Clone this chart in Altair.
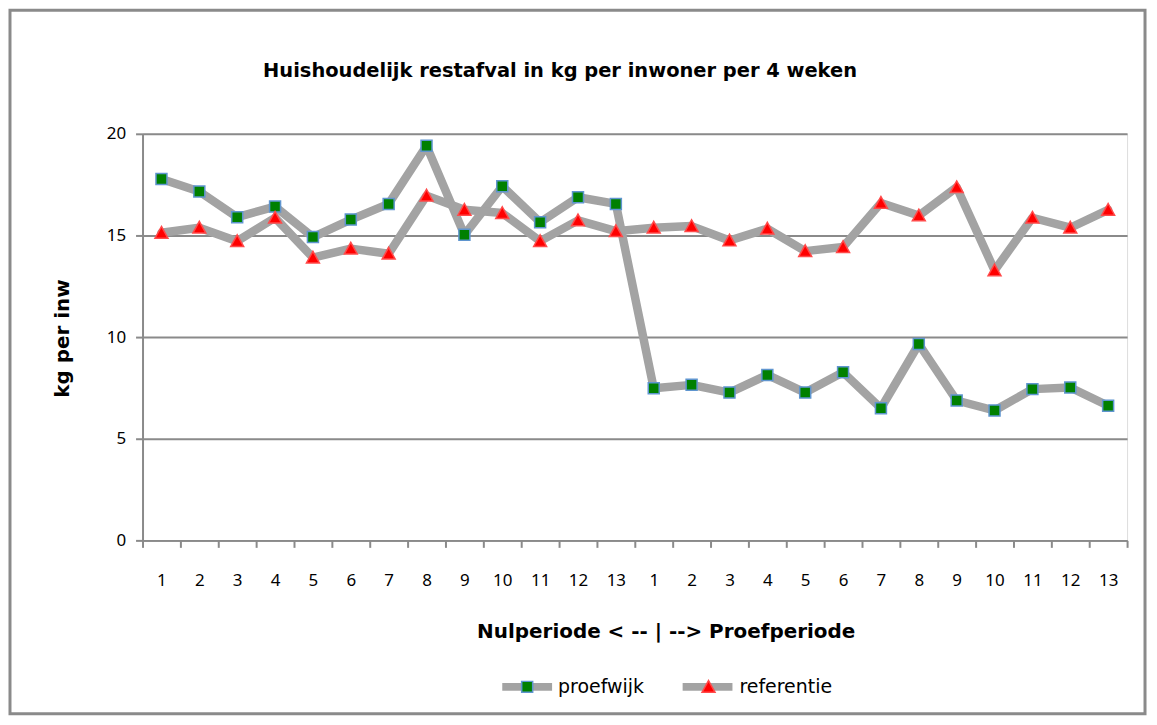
import altair as alt
import pandas as pd

# ---- data ----
periods = ["N1", "N2", "N3", "N4", "N5", "N6", "N7", "N8", "N9", "N10", "N11", "N12", "N13",
           "P1", "P2", "P3", "P4", "P5", "P6", "P7", "P8", "P9", "P10", "P11", "P12", "P13"]
proefwijk = [17.78, 17.16, 15.90, 16.42, 14.92, 15.78, 16.55, 19.41, 15.03, 17.42, 15.65, 16.88, 16.55,
             7.48, 7.65, 7.27, 8.14, 7.27, 8.27, 6.50, 9.66, 6.88, 6.39, 7.44, 7.52, 6.62]
referentie = [15.13, 15.38, 14.72, 15.87, 13.91, 14.35, 14.10, 16.96, 16.26, 16.10, 14.72, 15.74, 15.21,
              15.38, 15.46, 14.75, 15.33, 14.23, 14.43, 16.60, 15.98, 17.37, 13.28, 15.87, 15.38, 16.26]
series_names = ["proefwijk", "referentie"]
y_ticks = [0, 5, 10, 15, 20]
chart_title = "Huishoudelijk restafval in kg per inwoner per 4 weken"

ZW = "\u200b"  # zero-width marker so the line legend keeps its own labels
rows = []
for name, vals in zip(series_names, [proefwijk, referentie]):
    for p, v in zip(periods, vals):
        rows.append({"periode": p, "serie": name, "lijn": name + ZW, "waarde": v})
df = pd.DataFrame(rows)

GRAY = "#8a8a8a"
LINE = "#a3a3a3"
LABEL_FONT = "Noto Sans"
BOLD_FONT = "DejaVu Sans"

square = "M-0.195,-0.195H0.195V0.195H-0.195Z"
triangle = "M0,-0.225L0.23,0.19L-0.23,0.19Z"

x_enc = alt.X(
    "periode:N", sort=periods,
    scale=alt.Scale(type="band", paddingInner=0, paddingOuter=0),
    axis=alt.Axis(
        labelExpr="isString(datum.value) ? substring(datum.value, 1) : ''", labelAngle=0,
        labelFont=LABEL_FONT, labelFontSize=17, labelColor="black", labelPadding=25,
        tickBand="extent", tickSize=7, tickColor=GRAY, tickWidth=2,
        domainColor=GRAY, domainWidth=2, grid=False,
        title="Nulperiode < -- | --> Proefperiode",
        titleFont=BOLD_FONT, titleFontSize=20, titleFontWeight="bold", titleColor="black",
        titleX=525, titleY=91, titleBaseline="middle", titleAlign="center",
    ),
)
y_enc = alt.Y(
    "waarde:Q", scale=alt.Scale(domain=[0, 20]),
    axis=alt.Axis(
        values=y_ticks, format="d",
        labelFont=LABEL_FONT, labelFontSize=17, labelColor="black", labelPadding=10,
        tickSize=7, tickColor=GRAY, tickWidth=2,
        domainColor=GRAY, domainWidth=2,
        grid=True, gridColor=GRAY, gridWidth=2,
        title="kg per inw",
        titleFont=BOLD_FONT, titleFontSize=20, titleFontWeight="bold", titleColor="black",
        titleX=-80, titleY=205, titleBaseline="middle", titleAlign="center", titleAngle=-90,
    ),
)

legend_common = dict(
    orient="none", legendX=357, legendY=526, direction="horizontal", title=None,
    labelFont=BOLD_FONT, labelFontSize=19, labelColor="black", labelOffset=2, padding=0,
)

lines = alt.Chart(df).mark_line(strokeWidth=8.5, strokeCap="round", strokeJoin="round").encode(
    x=x_enc, y=y_enc,
    color=alt.Color("lijn:N", scale=alt.Scale(domain=[n + ZW for n in series_names], range=[LINE, LINE]),
                    legend=alt.Legend(symbolType="stroke", symbolSize=2500, symbolStrokeWidth=8,
                                      labelOpacity=0, columnPadding=22, **legend_common)),
)

pt_legend = dict(symbolSize=3192, symbolStrokeWidth=1.5, columnPadding=35, **legend_common)
points = alt.Chart(df).mark_point(filled=True, size=3192, strokeWidth=1.5, opacity=1).encode(
    x=x_enc, y=y_enc,
    fill=alt.Fill("serie:N", scale=alt.Scale(domain=series_names, range=["#008000", "#ff0000"]),
                  legend=alt.Legend(**pt_legend)),
    stroke=alt.Stroke("serie:N", scale=alt.Scale(domain=series_names, range=["#5f95cf", "#ff4a4a"]),
                      legend=alt.Legend(**pt_legend)),
    shape=alt.Shape("serie:N", scale=alt.Scale(domain=series_names, range=[square, triangle]),
                    legend=alt.Legend(**pt_legend)),
)

frame = alt.Chart(pd.DataFrame({"k": [0]})).mark_rect(filled=False, stroke=GRAY, strokeWidth=3).encode(
    x=alt.value(-133), x2=alt.value(1006), y=alt.value(-124), y2=alt.value(582),
)

title = alt.Chart(pd.DataFrame({"t": [chart_title]})).mark_text(
    font=BOLD_FONT, fontSize=19.5, fontWeight="bold", color="black", align="center", baseline="middle",
).encode(text="t:N", x=alt.value(419), y=alt.value(-63))

chart = alt.layer(frame, title, lines, points).properties(
    width=988, height=408,
    autosize=alt.AutoSizeParams(type="none"),
    padding={"left": 135, "top": 125, "right": 22, "bottom": 176},
).configure_view(stroke=None).configure(background="white")

chart.save("out.html", embed_options={"renderer": "svg", "actions": False})
